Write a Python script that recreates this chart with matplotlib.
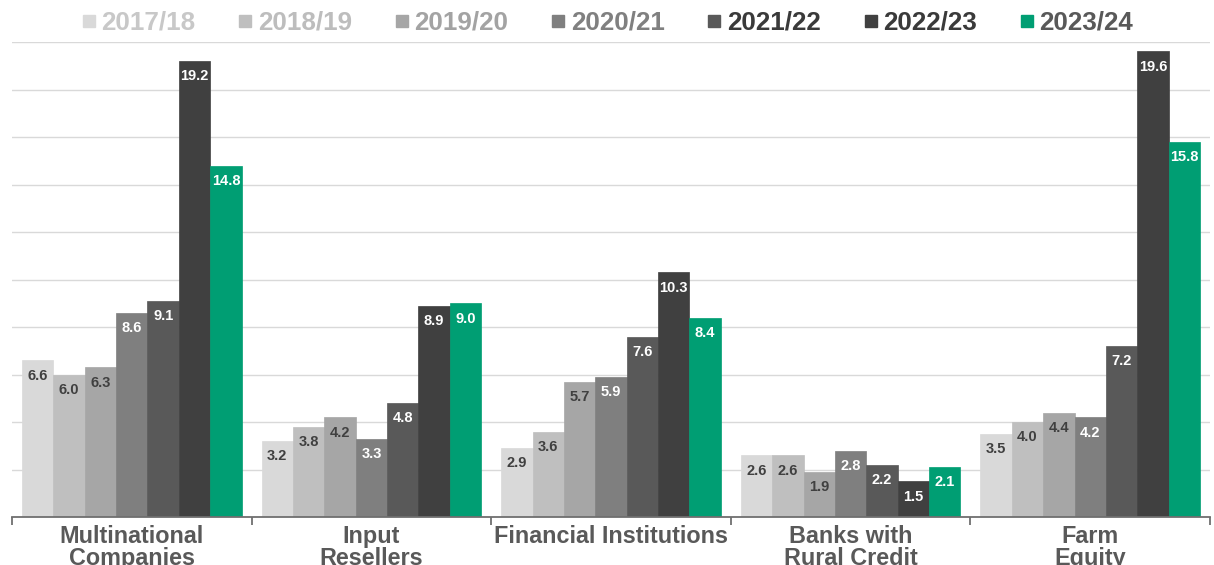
import matplotlib
matplotlib.use("Agg")
import matplotlib.pyplot as plt
from matplotlib.lines import Line2D
import numpy as np

plt.rcParams['font.family'] = ['Liberation Sans', 'DejaVu Sans']

categories = ["Multinational\nCompanies", "Input\nResellers", "Financial Institutions",
              "Banks with\nRural Credit", "Farm\nEquity"]
series_names = ["2017/18", "2018/19", "2019/20", "2020/21", "2021/22", "2022/23", "2023/24"]
values = {
    "2017/18": [6.6, 3.2, 2.9, 2.6, 3.5],
    "2018/19": [6.0, 3.8, 3.6, 2.6, 4.0],
    "2019/20": [6.3, 4.2, 5.7, 1.9, 4.4],
    "2020/21": [8.6, 3.3, 5.9, 2.8, 4.2],
    "2021/22": [9.1, 4.8, 7.6, 2.2, 7.2],
    "2022/23": [19.2, 8.9, 10.3, 1.5, 19.6],
    "2023/24": [14.8, 9.0, 8.4, 2.1, 15.8],
}
bar_colors = ["#d9d9d9", "#bfbfbf", "#a6a6a6", "#7f7f7f", "#595959", "#404040", "#009e73"]
legend_text_colors = ["#c8c8c8", "#bdbdbd", "#a3a3a3", "#808080", "#3a3a3a", "#3a3a3a", "#595959"]
label_colors = ["#404040", "#404040", "#404040", "white", "white", "white", "white"]

fig = plt.figure(figsize=(12.14, 5.65), dpi=100)
ax = fig.add_axes([12/1214, 1-517/565, (1210-12)/1214, (517-42)/565])

n = len(series_names)
x = np.arange(len(categories))
w = 0.131
for i, name in enumerate(series_names):
    xs = x + (i - (n - 1) / 2) * w
    ax.bar(xs, values[name], width=w, color=bar_colors[i], zorder=3,
           edgecolor=bar_colors[i], linewidth=0.5)
    for xi, v in zip(xs, values[name]):
        ax.annotate(f"{v:.1f}", (xi, v), xytext=(0, -11), textcoords='offset points',
                    ha='center', va='center', fontsize=10.5, fontweight='bold',
                    color=label_colors[i], zorder=4)

ax.set_xlim(-0.5, len(categories) - 0.5)
ax.set_ylim(0, 20)
ax.set_yticks(np.arange(0, 21, 2))
ax.yaxis.grid(True, color="#d9d9d9", linewidth=1.0, zorder=0)
ax.tick_params(axis='y', length=0, labelleft=False)
for s in ['top', 'right', 'left']:
    ax.spines[s].set_visible(False)
ax.spines['bottom'].set_color('#6f6f6f')
ax.spines['bottom'].set_linewidth(1.3)
ax.spines['bottom'].set_zorder(5)

ax.set_xticks(x)
ax.set_xticklabels(categories, fontsize=16.8, fontweight='bold', color='#595959',
                   linespacing=0.95)
ax.tick_params(axis='x', which='major', length=0, pad=6)
ax.set_xticks(np.arange(-0.5, len(categories)), minor=True)
ax.tick_params(axis='x', which='minor', length=6, width=1.3, color='#6f6f6f')

handles = [Line2D([], [], marker='s', linestyle='', markersize=8, color=c) for c in bar_colors]
leg = fig.legend(handles, series_names, loc='center', bbox_to_anchor=(0.5, 1 - 23/565),
                 ncol=n, frameon=False, prop={'size': 18.7, 'weight': 'bold'},
                 handlelength=0.6, handletextpad=0.18, columnspacing=1.62,
                 borderpad=0, borderaxespad=0)
for t, c in zip(leg.get_texts(), legend_text_colors):
    t.set_color(c)

fig.savefig("out.png", dpi=100)
